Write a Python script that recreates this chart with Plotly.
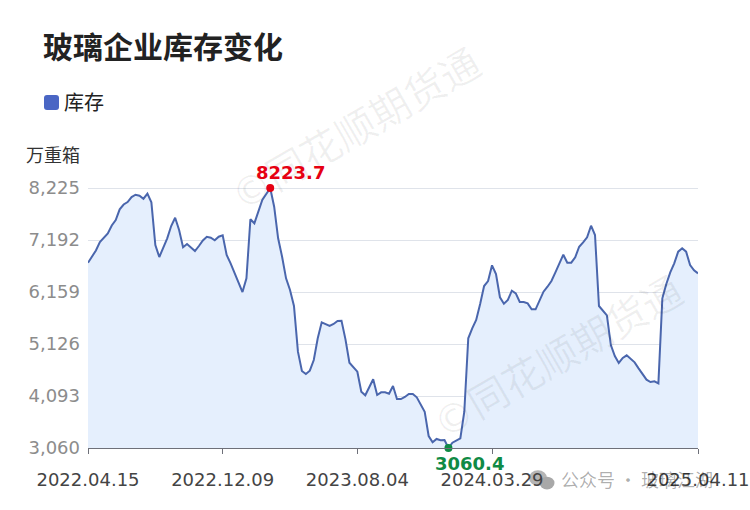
import pandas as pd
import plotly.graph_objects as go

# weekly dates, two holiday weeks missing in the source
dates = pd.date_range("2022-04-15", "2025-04-11", freq="7D")
dates = dates.drop(pd.to_datetime(["2024-10-04", "2025-01-31"]))
categories = [d.strftime("%Y.%m.%d") for d in dates]

# 库存 (万重箱)
stock = [
    6741, 6854, 6983, 7152, 7242, 7321, 7480, 7589, 7802, 7897,
    7947, 8046, 8092, 8072, 8012, 8112, 7941, 7093, 6854, 7047,
    7226, 7470, 7635, 7391, 7047, 7112, 7039, 6973, 7073, 7182,
    7257, 7238, 7186, 7257, 7285, 6894, 6729, 6546, 6364, 6159,
    6431, 7603, 7524, 7754, 7987, 8106, 8223.7, 7853, 7226, 6860,
    6431, 6199, 5881, 4973, 4590, 4530, 4596, 4808, 5239, 5557,
    5523, 5484, 5523, 5583, 5589, 5219, 4754, 4655, 4576, 4178,
    4107, 4266, 4425, 4113, 4166, 4166, 4139, 4292, 4033, 4033,
    4073, 4133, 4133, 4067, 3914, 3781, 3298, 3173, 3239, 3213,
    3219, 3060.4, 3165, 3205, 3253, 3781, 5239, 5438, 5603, 5921,
    6278, 6377, 6689, 6517, 6054, 5927, 6000, 6185, 6133, 5960,
    5960, 5934, 5815, 5815, 6000, 6165, 6264, 6377, 6550, 6729,
    6900, 6741, 6741, 6848, 7059, 7146, 7246, 7476, 7291, 5881,
    5787, 5696, 5106, 4888, 4749, 4848, 4901, 4828, 4762, 4643,
    4524, 4417, 4371, 4385, 4345, 6034, 6318, 6550, 6729, 6960,
    7027, 6960, 6695, 6590, 6530,
]

y_ticks = [3060, 4093, 5126, 6159, 7192, 8225]
x_ticks = ["2022.04.15", "2022.12.09", "2023.08.04", "2024.03.29", "2025.04.11"]

W, H = 750, 510
L, R, T, B = 88, 52, 186, 62
LATIN = "DejaVu Sans"
CJK = "Noto Sans CJK SC"


def px_x(x):
    return (x - L) / (W - L - R)


def px_y(y):
    return (H - B - y) / (H - T - B)


def note(x, y, text, size, color, angle=0, xanchor="left", family=CJK):
    return dict(
        x=px_x(x), y=px_y(y), xref="paper", yref="paper", text=text, showarrow=False,
        xanchor=xanchor, yanchor="middle", textangle=angle,
        font=dict(family=family, size=size, color=color),
    )


def dot(cx, cy, r, color):
    return dict(
        type="circle", xref="paper", yref="paper", line_width=0, fillcolor=color, layer="below",
        x0=px_x(cx - r), x1=px_x(cx + r), y0=px_y(cy + r * 0.85), y1=px_y(cy - r * 0.85),
    )


def rounded_box(x0, y0, x1, y1, r, color):
    a, b = px_x(x0), px_x(x1)
    c, d = px_y(y0), px_y(y1)
    rx, ry = px_x(x0 + r) - a, c - px_y(y0 + r)
    path = (
        f"M {a + rx} {c} L {b - rx} {c} Q {b} {c} {b} {c - ry} "
        f"L {b} {d + ry} Q {b} {d} {b - rx} {d} "
        f"L {a + rx} {d} Q {a} {d} {a} {d + ry} "
        f"L {a} {c - ry} Q {a} {c} {a + rx} {c} Z"
    )
    return dict(type="path", xref="paper", yref="paper", path=path, fillcolor=color, line_width=0)


peak_i = stock.index(max(stock))
low_i = stock.index(min(stock))

fig = go.Figure()
fig.add_trace(go.Scatter(
    x=categories, y=stock, mode="lines", name="库存",
    line=dict(color="#4a66ad", width=2), fill="tozeroy", fillcolor="#e5effd",
    showlegend=False,
))
fig.add_trace(go.Scatter(
    x=[categories[peak_i]], y=[stock[peak_i]], mode="markers", cliponaxis=False,
    marker=dict(color="#e60012", size=8), showlegend=False,
))
fig.add_trace(go.Scatter(
    x=[categories[low_i]], y=[stock[low_i]], mode="markers", cliponaxis=False,
    marker=dict(color="#0f8a45", size=8), showlegend=False,
))

mark_font = f"{LATIN}, {CJK}"
fig.update_layout(
    width=W, height=H,
    margin=dict(l=L, r=R, t=T, b=B),
    paper_bgcolor="white", plot_bgcolor="white",
    font=dict(family=LATIN),
    shapes=[
        rounded_box(44, 95, 59, 110, 3, "#4a66c4"),
        dot(538, 478, 9, "#b5b5b5"),
        dot(547, 483, 7.5, "#a8a8a8"),
    ],
    annotations=[
        note(41, 45, "<b>玻璃企业库存变化</b>", 30, "#222222"),
        note(62, 102, "库存", 20, "#222222"),
        note(24, 154, "万重箱", 18, "#333333"),
        note(356, 130, "©同花顺期货通", 40, "rgba(0,0,0,0.06)", angle=-30, xanchor="center", family=mark_font),
        note(558, 358, "©同花顺期货通", 40, "rgba(0,0,0,0.06)", angle=-30, xanchor="center", family=mark_font),
        note(559, 479, "公众号 · 玻璃江湖", 18, "rgba(0,0,0,0.33)"),
        dict(
            x=categories[peak_i], y=stock[peak_i], text=f"<b>{stock[peak_i]}</b>", showarrow=False,
            xshift=20, yshift=16, font=dict(family=LATIN, size=18, color="#e60012"),
        ),
        dict(
            x=categories[low_i], y=stock[low_i], text=f"<b>{stock[low_i]}</b>", showarrow=False,
            xshift=21, yshift=-16, font=dict(family=LATIN, size=18, color="#0f8a45"),
        ),
    ],
)
fig.update_xaxes(
    type="category", categoryorder="array", categoryarray=categories,
    range=[0, len(categories) - 1], automargin=False,
    tickmode="array", tickvals=x_ticks, ticktext=x_ticks,
    showgrid=False, zeroline=False,
    showline=True, linecolor="#6e7079", linewidth=1,
    ticks="outside", ticklen=5, tickcolor="#6e7079", ticklabelstandoff=10,
    tickfont=dict(family=LATIN, size=18, color="#444444"), tickangle=0,
)
# top of range a little above 8225 so plotly keeps that gridline
fig.update_yaxes(
    range=[3060, 8265], tickmode="array", tickvals=y_ticks, tickformat=",", automargin=False,
    showgrid=True, gridcolor="#dfe3ea", gridwidth=1, zeroline=False,
    ticks="", showline=False, ticklabelstandoff=7,
    tickfont=dict(family=LATIN, size=18, color="#8c8c8c"),
)

fig.write_html(
    "out.html",
    config={"displayModeBar": False},
    post_script="document.body.style.margin = '0';",
)
